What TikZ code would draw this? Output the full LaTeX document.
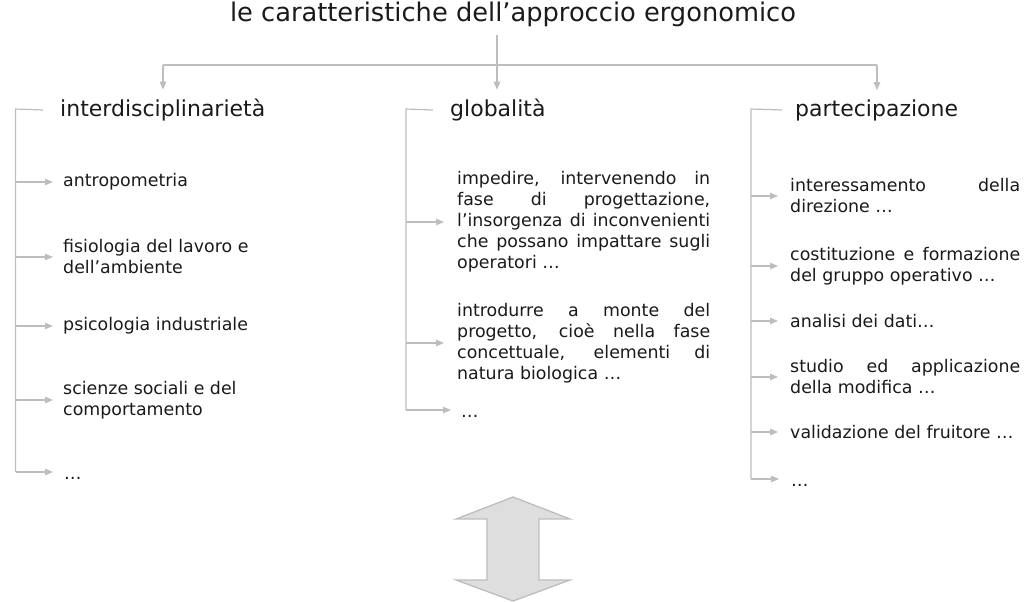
\documentclass[tikz,border=0pt]{standalone}
\usepackage{fontspec}
\setmainfont{DejaVu Sans}
\usetikzlibrary{arrows.meta}
\definecolor{lc}{HTML}{BDBDBD}
\definecolor{tc}{HTML}{1A1A1A}
\definecolor{af}{HTML}{DEDEDE}
\newcommand{\jl}[2]{\makebox[#1][s]{#2}}
\tikzset{
  conn/.style={draw=lc, line width=1.2pt},
  arr/.style={conn, -{Triangle[length=8pt,width=6.5pt]}},
  ttl/.style={inner sep=0pt, font=\fontsize{25.7}{30}\selectfont, text=tc},
  head/.style={anchor=west, inner sep=0pt, font=\fontsize{22}{26}\selectfont, text=tc},
  item/.style={anchor=west, inner sep=0pt, font=\fontsize{17.4}{21}\selectfont, text=tc, align=left},
  dots/.style={anchor=base west, inner sep=0pt, font=\fontsize{17.4}{21}\selectfont, text=tc},
  bigarrow/.style={draw=lc, fill=af, line width=1.3pt, line join=miter},
}
\begin{document}
\begin{tikzpicture}[x=1pt,y=-1pt]
\useasboundingbox (0,0) rectangle (1025,602);

% title and top connectors
\node[ttl] (t) at (513,14) {le caratteristiche dell’approccio ergonomico};
\coordinate (j) at (497,65);
\coordinate (a1) at (163,65);
\coordinate (a3) at (877,65);
\node[head] (h1) at (60,110) {interdisciplinarietà};
\node[head] (h2) at (450,110) {globalità};
\node[head] (h3) at (795,110) {partecipazione};
\draw[conn] ([yshift=-8pt]t.south -| j) -- (j);
\draw[conn] (a1) -- (a3);
\draw[arr] (a1) -- ([yshift=9pt]h1.north -| a1);
\draw[arr] (j) -- ([yshift=9pt]h2.north -| j);
\draw[arr] (a3) -- ([yshift=9pt]h3.north -| a3);

% left column
\coordinate (b1) at (15.5,109);
\node[item] (l1) at (63,182) {antropometria};
\node[item] (l2) at (63,257) {fisiologia del lavoro e\\dell’ambiente};
\node[item] (l3) at (63,326) {psicologia industriale};
\node[item] (l4) at (63,400) {scienze sociali e del\\comportamento};
\node[dots] (l5) at (64,479) {…};
\draw[conn] ([xshift=-17pt]h1.west) -- (b1) -- ([yshift=7pt]b1 |- l5.base);
\foreach \n in {l1,l2,l3,l4}{
  \draw[arr] (b1 |- \n.west) -- ([xshift=-10pt]\n.west);
}
\draw[arr] ([yshift=7pt]b1 |- l5.base) -- ([xshift=-11pt,yshift=7pt]l5.base west);

% middle column
\coordinate (b2) at (406,109);
\node[item] (m1) at (457,222) {\jl{253pt}{impedire, intervenendo in}\\
  \jl{253pt}{fase di progettazione,}\\
  \jl{253pt}{l’insorgenza di inconvenienti}\\
  \jl{253pt}{che possano impattare sugli}\\
  operatori …};
\node[item] (m2) at (457,343) {\jl{253pt}{introdurre a monte del}\\
  \jl{253pt}{progetto, cioè nella fase}\\
  \jl{253pt}{concettuale, elementi di}\\
  natura biologica …};
\node[dots] (m3) at (461,417) {…};
\draw[conn] ([xshift=-17pt]h2.west) -- (b2) -- ([yshift=7pt]b2 |- m3.base);
\foreach \n in {m1,m2}{
  \draw[arr] (b2 |- \n.west) -- ([xshift=-13pt]\n.west);
}
\draw[arr] ([yshift=7pt]b2 |- m3.base) -- ([xshift=-10pt,yshift=7pt]m3.base west);

% right column
\coordinate (b3) at (751,109);
\node[item] (r1) at (790,196) {\jl{230pt}{interessamento della}\\direzione …};
\node[item] (r2) at (790,266) {\jl{230pt}{costituzione e formazione}\\del gruppo operativo …};
\node[item] (r3) at (790,321) {analisi dei dati…};
\node[item] (r4) at (790,377) {\jl{230pt}{studio ed applicazione}\\della modifica …};
\node[item] (r5) at (790,432) {validazione del fruitore …};
\node[dots] (r6) at (791,486) {…};
\draw[conn] ([xshift=-13pt]h3.west) -- (b3) -- ([yshift=7pt]b3 |- r6.base);
\foreach \n in {r1,r2,r3,r4,r5}{
  \draw[arr] (b3 |- \n.west) -- ([xshift=-12pt]\n.west);
}
\draw[arr] ([yshift=7pt]b3 |- r6.base) -- ([xshift=-12pt,yshift=7pt]r6.base west);

% big double arrow
\draw[bigarrow] (513,497) -- (570,519) -- (539,519) -- (539,580) -- (570,580)
  -- (513,601) -- (456,580) -- (487,580) -- (487,519) -- (456,519) -- cycle;
\end{tikzpicture}
\end{document}
